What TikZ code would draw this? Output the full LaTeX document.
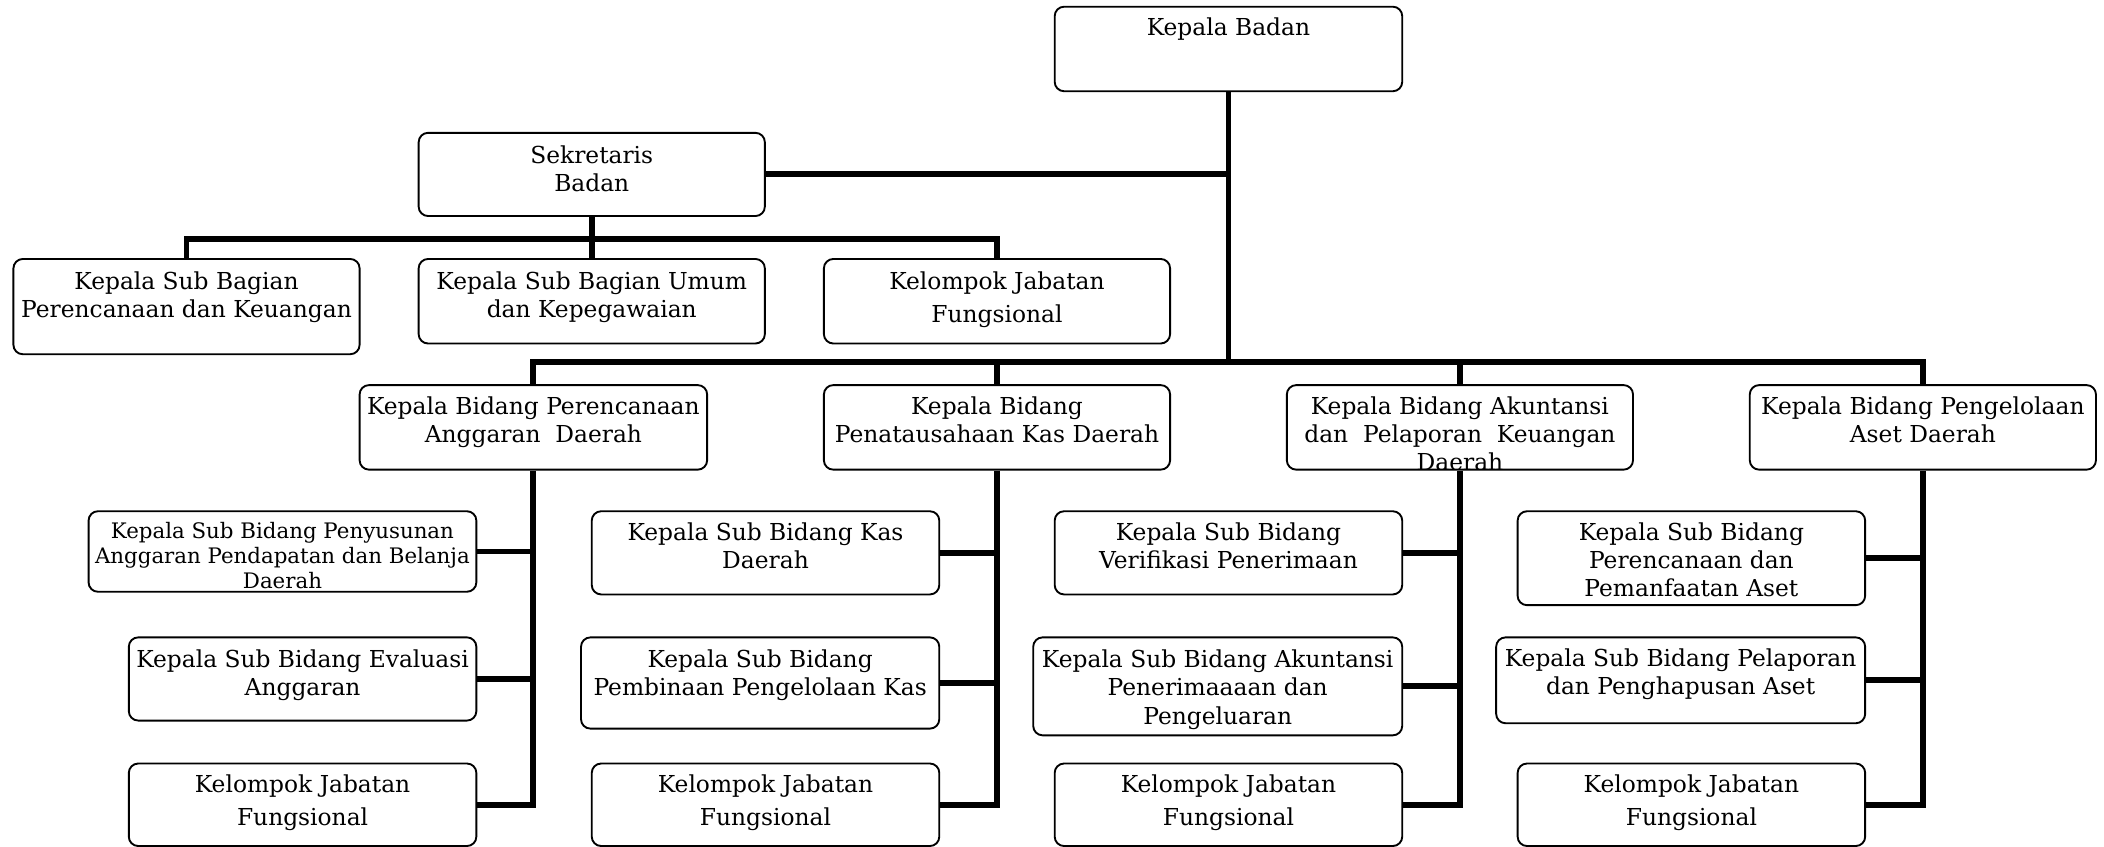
\documentclass[tikz,border=0pt]{standalone}
\usepackage{fontspec}
\setmainfont{DejaVu Serif}
\usetikzlibrary{fit,calc}
\newcommand{\orgbox}[8][\fnorm]{%
  \node[box, fit={(#3,#4) (#5,#6)}] (#2) {};
  \node[txt, font=#1] (#2-t) at ({(#3+#5)/2},#7) {#8};
}
\newcommand{\orgboxclip}[8][\fnorm]{%
  \node[box, fit={(#3,#4) (#5,#6)}] (#2) {};
  \begin{scope}
    \clip (#3,#4) rectangle (#5,#6);
    \node[txt, font=#1] (#2-t) at ({(#3+#5)/2},#7) {#8};
  \end{scope}
}
\newcommand{\fnorm}{\fontsize{8.7}{10.5}\selectfont}
\newcommand{\fkel}{\fontsize{8.7}{12.2}\selectfont}
\newcommand{\fsmall}{\fontsize{7.95}{9.3}\selectfont}
\begin{document}
\begin{tikzpicture}[x=0.5pt,y=-0.5pt,
  box/.style={draw, rounded corners=3.5pt, line width=0.7pt, fill=white, inner sep=0pt},
  txt/.style={align=center, inner sep=0pt, anchor=north},
  conn/.style={line width=2.2pt}]
\useasboundingbox (0,0) rectangle (1568,631);
\coordinate (sbar) at (0,178);
\coordinate (bbar) at (0,270);
% --- boxes ---
\orgbox{kb}{786}{5}{1045}{68}{13}{Kepala Badan}
\orgbox{sek}{312}{99}{570}{161}{108}{Sekretaris\\Badan}
\orgbox{ksbA}{10}{193}{268}{264}{202}{Kepala Sub Bagian\\Perencanaan dan Keuangan}
\orgbox{ksbB}{312}{193}{570}{256}{202}{Kepala Sub Bagian Umum\\dan Kepegawaian}
\orgbox[\fkel]{kjf}{614}{193}{872}{256}{202}{Kelompok Jabatan\\Fungsional}
\orgbox{kbA}{268}{287}{527}{350}{295}{Kepala Bidang Perencanaan\\Anggaran\ \ Daerah}
\orgbox{kbB}{614}{287}{872}{350}{295}{Kepala Bidang\\Penatausahaan Kas Daerah}
\orgboxclip{kbC}{959}{287}{1217}{350}{295}{Kepala Bidang Akuntansi\\dan\ \ Pelaporan\ \ Keuangan\\Daerah}
\orgbox{kbD}{1304}{287}{1562}{350}{295}{Kepala Bidang Pengelolaan\\Aset Daerah}
% column 1
\orgbox[\fsmall]{aA}{66}{381}{355}{441}{389}{Kepala Sub Bidang Penyusunan\\Anggaran Pendapatan dan Belanja\\Daerah}
\orgbox{aB}{96}{475}{355}{537}{484}{Kepala Sub Bidang Evaluasi\\Anggaran}
\orgbox[\fkel]{aC}{96}{569}{355}{630.5}{577}{Kelompok Jabatan\\Fungsional}
% column 2
\orgbox{bA}{441}{381}{700}{443}{389}{Kepala Sub Bidang Kas\\Daerah}
\orgboxclip{bB}{433}{475}{700}{543}{484}{Kepala Sub Bidang\\Pembinaan Pengelolaan Kas}
\orgbox[\fkel]{bC}{441}{569}{700}{630.5}{577}{Kelompok Jabatan\\Fungsional}
% column 3
\orgbox{cA}{786}{381}{1045}{443}{389}{Kepala Sub Bidang\\Verifikasi Penerimaan}
\orgboxclip{cB}{770}{475}{1045}{548}{484}{Kepala Sub Bidang Akuntansi\\Penerimaaaan dan\\Pengeluaran}
\orgbox[\fkel]{cC}{786}{569}{1045}{630.5}{577}{Kelompok Jabatan\\Fungsional}
% column 4
\orgbox{dA}{1131}{381}{1390}{451}{389}{Kepala Sub Bidang\\Perencanaan dan\\Pemanfaatan Aset}
\orgbox{dB}{1115}{475}{1390}{539}{483}{Kepala Sub Bidang Pelaporan\\dan Penghapusan Aset}
\orgbox[\fkel]{dC}{1131}{569}{1390}{630.5}{577}{Kelompok Jabatan\\Fungsional}
% --- connectors ---
\draw[conn] (kb.south) -- (kb.south |- bbar);
\draw[conn] (sek.east) -- (sek.east -| kb.south);
\draw[conn] (sek.south) -- (ksbB.north);
\draw[conn] (ksbA.north) -- (ksbA.north |- sbar) -- (kjf.north |- sbar) -- (kjf.north);
\draw[conn] (kbA.north) -- (kbA.north |- bbar) -- (kbD.north |- bbar) -- (kbD.north);
\draw[conn] (kbB.north) -- (kbB.north |- bbar);
\draw[conn] (kbC.north) -- (kbC.north |- bbar);
\draw[conn] (kbA.south) |- (aC.east);
\draw[conn] (aA.east) -- (aA.east -| kbA.south);
\draw[conn] (aB.east) -- (aB.east -| kbA.south);
\draw[conn] (kbB.south) |- (bC.east);
\draw[conn] (bA.east) -- (bA.east -| kbB.south);
\draw[conn] (bB.east) -- (bB.east -| kbB.south);
\draw[conn] (kbC.south) |- (cC.east);
\draw[conn] (cA.east) -- (cA.east -| kbC.south);
\draw[conn] (cB.east) -- (cB.east -| kbC.south);
\draw[conn] (kbD.south) |- (dC.east);
\draw[conn] (dA.east) -- (dA.east -| kbD.south);
\draw[conn] (dB.east) -- (dB.east -| kbD.south);
\end{tikzpicture}
\end{document}
